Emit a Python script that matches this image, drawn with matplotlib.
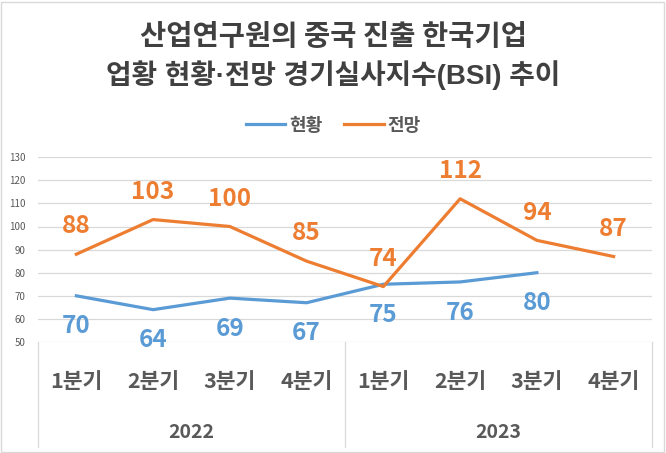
import matplotlib
matplotlib.use("Agg")
import matplotlib.pyplot as plt
from matplotlib.patches import Rectangle
from matplotlib.lines import Line2D
import matplotlib.transforms as mtransforms

plt.rcParams['font.family'] = ['Noto Sans CJK KR', 'DejaVu Sans']

# 데이터
years = ['2022', '2023']
quarters = ['1분기', '2분기', '3분기', '4분기']
current = [70, 64, 69, 67, 75, 76, 80]          # 현황
outlook = [88, 103, 100, 85, 74, 112, 94, 87]   # 전망
yticks = [50, 60, 70, 80, 90, 100, 110, 120, 130]

BLUE = '#5B9BD5'
ORANGE = '#ED7D31'
GREY = '#595959'
GRID = '#D9D9D9'

fig = plt.figure(figsize=(6.66, 4.53), dpi=100)
ax = fig.add_axes([0.057, 0.245, 0.922, 0.408])

n = len(years) * len(quarters)
ax.plot(range(len(current)), current, color=BLUE, lw=2.3, label='현황')
ax.plot(range(len(outlook)), outlook, color=ORANGE, lw=2.3, label='전망')

for i, v in enumerate(current):
    ax.annotate(str(v), (i, v), xytext=(0, -22), textcoords='offset points',
                ha='center', va='center', color=BLUE, fontsize=17.5, fontweight='bold')
for i, v in enumerate(outlook):
    ax.annotate(str(v), (i, v), xytext=(0, 20), textcoords='offset points',
                ha='center', va='center', color=ORANGE, fontsize=17.5, fontweight='bold')

ax.set_xlim(-0.5, n - 0.5)
ax.set_ylim(50, 130)
ax.set_yticks(yticks)
ax.tick_params(axis='y', length=0, labelsize=7, labelcolor=GREY, pad=9)
ax.set_xticks([])
ax.grid(axis='y', color=GRID, lw=0.9)
ax.set_axisbelow(True)
for s in ax.spines.values():
    s.set_visible(False)

# 두 단계 카테고리 축
trans = mtransforms.blended_transform_factory(ax.transData, fig.transFigure)
for xb in [-0.5, 3.5, 7.5]:
    fig.add_artist(Line2D([xb, xb], [0.245, 0.013], transform=trans, color=GRID, lw=0.9))
for yi, yr in enumerate(years):
    for qi, q in enumerate(quarters):
        fig.text(yi * 4 + qi, 0.157, q, transform=trans, ha='center', va='center',
                 fontsize=15.5, fontweight='bold', color=GREY)
    fig.text(yi * 4 + 1.5, 0.046, yr, transform=trans, ha='center', va='center',
             fontsize=14, fontweight='bold', color=GREY)

# 제목과 범례
fig.text(0.5, 0.918, '산업연구원의 중국 진출 한국기업', ha='center', va='center',
         fontsize=20.5, fontweight='bold', color='#404040')
fig.text(0.5, 0.834, '업황 현황·전망 경기실사지수(BSI) 추이', ha='center', va='center',
         fontsize=20, fontweight='bold', color='#404040',
         family=['Liberation Sans', 'Noto Sans CJK KR'])
fig.legend(loc='center', bbox_to_anchor=(0.5, 0.724), ncol=2, frameon=False,
           prop={'size': 13, 'weight': 'bold'}, labelcolor=GREY,
           handlelength=2.2, handletextpad=0.2, columnspacing=1.2)

fig.add_artist(Rectangle((0.002, 0.003), 0.995, 0.993, transform=fig.transFigure,
                         fill=False, edgecolor=GRID, lw=1))

fig.savefig('out.png', dpi=100)
